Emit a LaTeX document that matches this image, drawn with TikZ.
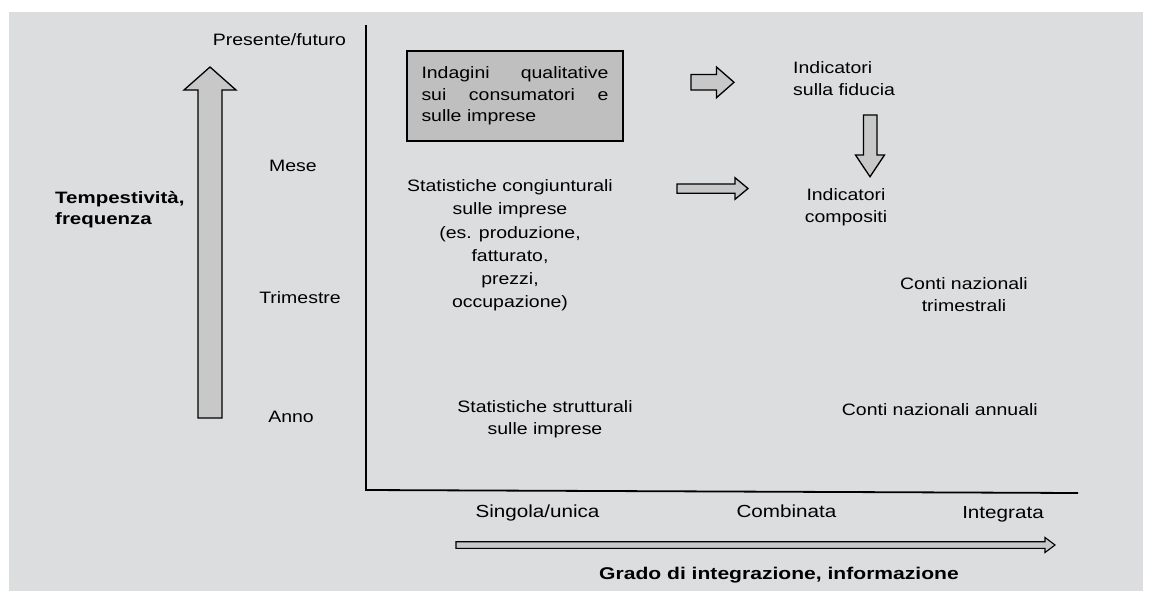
\documentclass[tikz,border=0pt]{standalone}
\usepackage{fontspec}
\newfontfamily\wide[FakeStretch=1.18]{Liberation Sans}
\newfontfamily\wideb[FakeStretch=1.24]{Liberation Sans}
\definecolor{bggray}{RGB}{220,221,223}
\definecolor{boxgray}{RGB}{191,191,192}
\definecolor{arrgray}{RGB}{200,200,201}
\begin{document}
\begin{tikzpicture}[x=1pt,y=-1pt,
  txt/.style={inner sep=0pt, font=\wide\fontsize{16.5}{22.5}\selectfont, text=black},
  btxt/.style={txt, font=\wideb\bfseries\fontsize{16.5}{21}\selectfont},
  ntxt/.style={inner sep=0pt, font=\wide\fontsize{17.5}{22}\selectfont, text=black},
  nbtxt/.style={ntxt, font=\wideb\bfseries\fontsize{17}{22}\selectfont},
  blockarr/.style={draw=black, fill=arrgray, line width=1.3pt, line join=miter},
  axis/.style={draw=black, line width=1.8pt}]
\useasboundingbox (0,0) rectangle (1149,592);
\fill[white] (0,0) rectangle (1149,592);
\fill[bggray] (9,12) rectangle (1143,591);

% axes
\coordinate (ytop) at (366,25);
\coordinate (orig) at (366,490);
\coordinate (xend) at (1078,493);
\draw[axis] (ytop) -- (orig) -- (xend);

% vertical scale labels
\node[txt, anchor=north] (pres) at (279.5,33) {Presente/futuro};
\node[txt, anchor=north] (mese) at (293,159.5) {Mese};
\node[txt, anchor=north] (trim) at (300,291) {Trimestre};
\node[txt, anchor=north] (anno) at (291,410.5) {Anno};
\node[btxt, anchor=north west, align=left] (tempo) at (55,191.5) {Tempestività,\\frequenza};

% big up arrow
\draw[blockarr] (198,418) -- (198,90) -- (184,90) -- (210,67) -- (236,90) -- (222,90) -- (222,418) -- cycle;

% box
\node[txt, draw=black, line width=1.3pt, fill=boxgray, minimum width=216pt, minimum height=90pt,
  text width=187pt, align=left, font=\wide\fontsize{16.5}{21.5}\selectfont] (indag) at (515,96)
  {\makebox[187pt][l]{Indagini\hfill qualitative}\\\makebox[187pt][l]{sui\hfill consumatori\hfill e}\\sulle imprese};

% right arrow 1
\draw[blockarr] (691,74.5) -- (716.5,74.5) -- (716.5,67) -- (734,82.3) -- (716.5,97.7) -- (716.5,90) -- (691,90) -- cycle;
\node[txt, anchor=north west, align=left] (indfid) at (793,61) {Indicatori\\sulla fiducia};

% down arrow
\draw[blockarr] (863.5,115) -- (877,115) -- (877,155) -- (884.5,155) -- (870,176.7) -- (855.5,155) -- (863.5,155) -- cycle;
\node[txt, anchor=north, align=center] (indcomp) at (846,188) {Indicatori\\compositi};

% statistiche congiunturali
\node[txt, anchor=north, align=center, font=\wide\fontsize{16.5}{23.2}\selectfont] (stc) at (510,179.5)
  {Statistiche congiunturali\\sulle imprese\\(es. produzione,\\fatturato,\\prezzi,\\occupazione)};
% right arrow 2
\draw[blockarr] (677,184) -- (735,184) -- (735,177.7) -- (748,188.5) -- (735,199.3) -- (735,193.3) -- (677,193.3) -- cycle;

\node[txt, anchor=north, align=center] (cnt) at (964,277) {Conti nazionali\\trimestrali};
\node[txt, anchor=north, align=center] (ssi) at (545,400) {Statistiche strutturali\\sulle imprese};
\node[txt, anchor=north east] (cna) at (1038,403) {Conti nazionali annuali};

% horizontal scale
\node[ntxt, anchor=north] (sing) at (537.5,505) {Singola/unica};
\node[ntxt, anchor=north] (comb) at (786.5,505) {Combinata};
\node[ntxt, anchor=north] (integ) at (1003,506) {Integrata};
\draw[blockarr, line width=1.1pt] (456,541.7) -- (1045,541.7) -- (1045,537.5) -- (1055,545) -- (1045,552.5) -- (1045,548.3) -- (456,548.3) -- cycle;
\node[nbtxt, anchor=north] (grado) at (779,566.7) {Grado di integrazione, informazione};
\end{tikzpicture}
\end{document}
